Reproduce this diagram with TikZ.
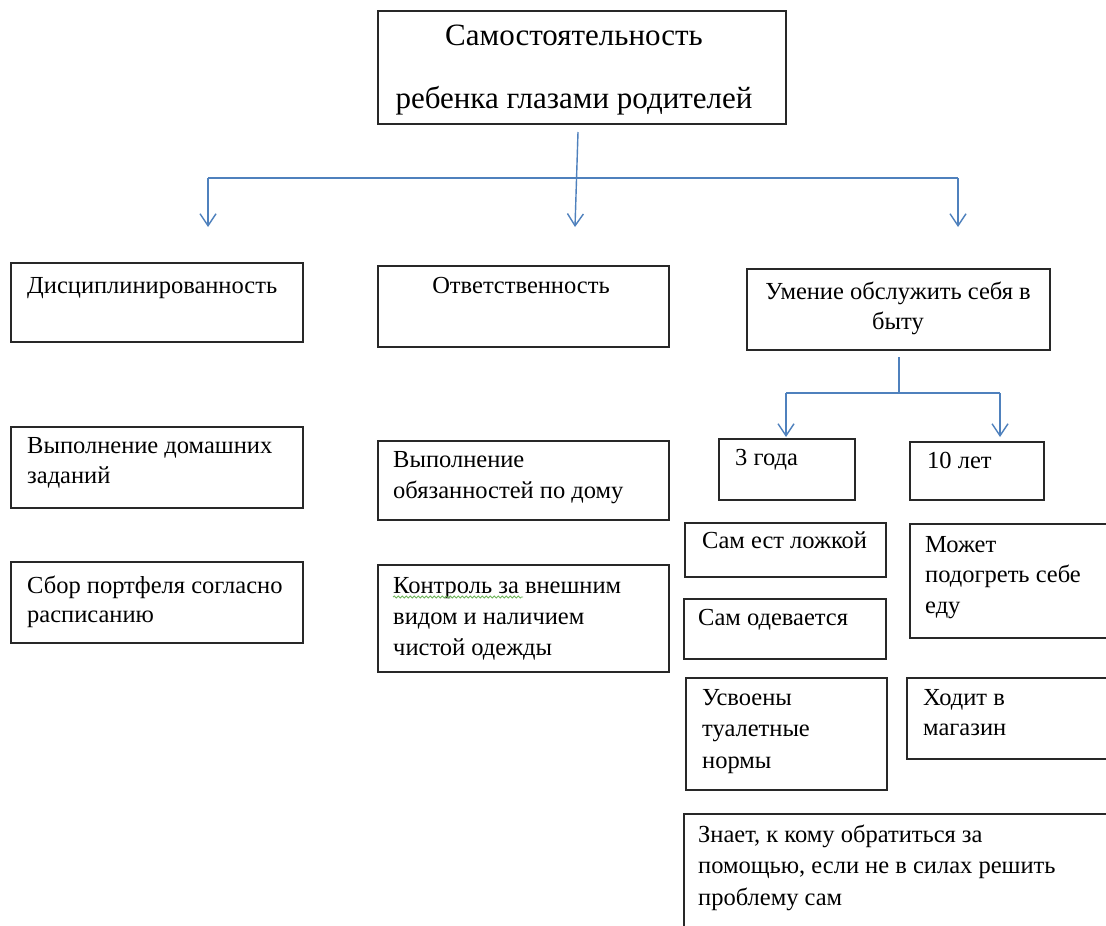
\documentclass[tikz,border=0pt]{standalone}
\usepackage{fontspec}
\setmainfont{Liberation Serif}
\usetikzlibrary{arrows.meta,calc,decorations.pathmorphing}
\definecolor{linkblue}{RGB}{79,129,189}
\definecolor{boxline}{RGB}{40,40,40}
\definecolor{squig}{RGB}{110,180,90}
\tikzset{
  box/.style={draw=boxline, line width=1.5pt, rectangle, anchor=north west, inner sep=0pt},
  txt/.style={anchor=base west, inner sep=0pt, align=left, font=\fontsize{24.5}{31}\selectfont},
  ctxt/.style={anchor=base, inner sep=0pt, align=center, font=\fontsize{24.5}{30}\selectfont},
  ttl/.style={anchor=base, inner sep=0pt, align=center, font=\fontsize{31}{63}\selectfont},
  conn/.style={draw=linkblue, line width=1.4pt},
  arr/.style={conn, -{Straight Barb[length=12pt,width=16pt]}},
}
\begin{document}
\begin{tikzpicture}[x=1pt,y=-1pt]
\clip (0,0) rectangle (1106,926);
\fill[white] (0,0) rectangle (1106,926);
% boxes
\node[box, minimum width=408, minimum height=113] (top) at (377,10) {};
\node[box, minimum width=292, minimum height=79] (d) at (10,262) {};
\node[box, minimum width=291, minimum height=81] (o) at (377,265) {};
\node[box, minimum width=303, minimum height=81] (u) at (746,268) {};
\node[box, minimum width=292, minimum height=81] (vd) at (10,426) {};
\node[box, minimum width=292, minimum height=81] (sp) at (10,561) {};
\node[box, minimum width=291, minimum height=79] (vo) at (377,440) {};
\node[box, minimum width=291, minimum height=107] (k) at (377,564) {};
\node[box, minimum width=136, minimum height=61] (g3) at (718,438) {};
\node[box, minimum width=134, minimum height=58] (g10) at (909,441) {};
\node[box, minimum width=201, minimum height=54] (s1) at (684,522) {};
\node[box, minimum width=202, minimum height=60] (s2) at (683,598) {};
\node[box, minimum width=201, minimum height=112] (s3) at (685,677) {};
\node[box, minimum width=220, minimum height=114] (m1) at (909,523) {};
\node[box, minimum width=220, minimum height=81] (m2) at (906,677) {};
\node[box, minimum width=440, minimum height=130] (z) at (683,813) {};
% texts (multi-line nodes are placed by the baseline of their last line)
\node[ttl] (tTop) at (574,108) {Самостоятельность\\ребенка глазами родителей};
\node[txt] (tD) at (27,293) {Дисциплинированность};
\node[ctxt] (tO) at (521,293) {Ответственность};
\node[ctxt] (tU) at (898,329) {Умение обслужить себя в\\быту};
\node[txt, font=\fontsize{24.5}{30}\selectfont] (tVD) at (27,483) {Выполнение домашних\\заданий};
\node[txt, font=\fontsize{24.5}{29}\selectfont] (tSP) at (27,622) {Сбор портфеля согласно\\расписанию};
\node[txt] (tVO) at (393,498) {Выполнение\\обязанностей по дому};
\node[txt] (tK) at (393,655) {Контроль за внешним\\видом и наличием\\чистой одежды};
\node[txt] (tG3) at (735,465) {3 года};
\node[txt] (tG10) at (927,468) {10 лет};
\node[txt] (tS1) at (702,548) {Сам ест ложкой};
\node[txt] (tS2) at (698,625) {Сам одевается};
\node[txt, font=\fontsize{24.5}{31.5}\selectfont] (tS3) at (702,768) {Усвоены\\туалетные\\нормы};
\node[txt, font=\fontsize{24.5}{30.5}\selectfont] (tM1) at (925,613) {Может\\подогреть себе\\еду};
\node[txt, font=\fontsize{24.5}{30}\selectfont] (tM2) at (923,735) {Ходит в\\магазин};
\node[txt, font=\fontsize{24.5}{31.5}\selectfont] (tZ) at (698,905) {Знает, к кому обратиться за\\помощью, если не в силах решить\\проблему сам};
% spell-check squiggle under the first word of tK
\draw[squig, line width=0.8pt, decorate, decoration={snake, amplitude=1pt, segment length=4pt}]
  ($(tK.base west)+(0,-58)$) -- ++(130,0);
% connectors
\coordinate (t0) at (578,132);
\coordinate (busL) at (208,178);
\coordinate (busR) at (958,178);
\coordinate (aL) at (208,227);
\coordinate (aM) at (575,227);
\coordinate (aR) at (958,227);
\draw[conn] (busL) -- (busR);
\draw[arr] (t0) -- (aM);
\draw[arr] (busL) -- (aL);
\draw[arr] (busR) -- (aR);
\coordinate (u0) at (899,357);
\coordinate (ub) at (899,393);
\coordinate (ubL) at (786,393);
\coordinate (ubR) at (1000,393);
\coordinate (a3) at (786,437);
\coordinate (a10) at (1000,437);
\draw[conn] (u0) -- (ub);
\draw[conn] (ubL) -- (ubR);
\draw[arr] (ubL) -- (a3);
\draw[arr] (ubR) -- (a10);
\end{tikzpicture}
\end{document}
